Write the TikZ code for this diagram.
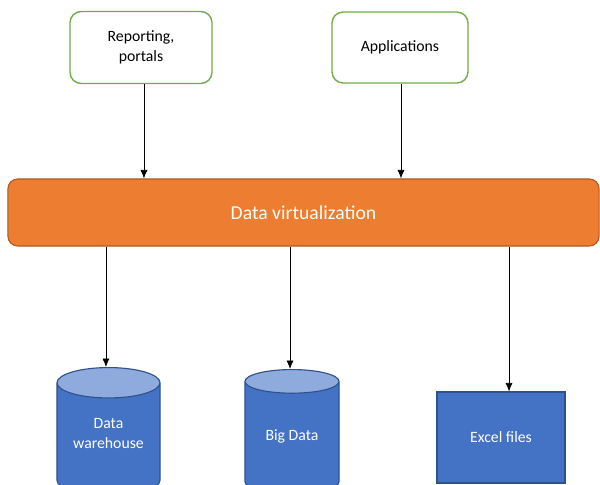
\documentclass[tikz,border=0pt]{standalone}
\usepackage{fontspec}
\setmainfont{Carlito}
\usetikzlibrary{arrows.meta,shapes.geometric,positioning}

\definecolor{frontgreen}{HTML}{70AD47}
\definecolor{layerorange}{HTML}{ED7D31}
\definecolor{layeredge}{HTML}{B4591F}
\definecolor{storeblue}{HTML}{4472C4}
\definecolor{storetop}{HTML}{8FAADC}
\definecolor{storeedge}{HTML}{2F528F}

\tikzset{
  front/.style={rectangle,rounded corners=8pt,draw=frontgreen,line width=1pt,fill=white,
    minimum width=3.55cm,minimum height=1.8cm,align=center,font=\fontsize{11.2}{14}\selectfont},
  layer/.style={rectangle,rounded corners=7pt,draw=layeredge,line width=0.8pt,fill=layerorange,
    minimum width=14.775cm,minimum height=1.675cm,text=white,font=\fontsize{14}{17}\selectfont},
  store/.style={cylinder,shape border rotate=90,aspect=0.38,draw=storeedge,line width=0.8pt,
    cylinder uses custom fill,cylinder body fill=storeblue,cylinder end fill=storetop,
    text=white,align=center,anchor=north,font=\fontsize{11.2}{14}\selectfont},
  sheet/.style={rectangle,draw=storeedge,line width=0.8pt,fill=storeblue,
    minimum width=3.2cm,minimum height=2.275cm,text=white,font=\fontsize{11.2}{14}\selectfont},
  link/.style={-{Latex[length=6pt,width=5pt]},line width=0.5pt}
}

\begin{document}
\begin{tikzpicture}[x=0.025cm,y=-0.025cm]
\useasboundingbox (0,0) rectangle (600,485);
\clip (0,0) rectangle (600,485);

\node[front] (rep) at (141,47.5) {Reporting,\\portals};
\node[front,minimum width=3.4cm,minimum height=1.775cm] (app) at (400,47.5) {Applications};
\node[layer] (dv) at (303.5,212.5) {Data virtualization};
\node[store,minimum width=2.575cm,minimum height=3.2cm,text depth=13pt] (dw) at (108.5,367) {Data\\warehouse};
\node[store,minimum width=2.35cm,minimum height=3.1cm,text depth=7.5pt] (bd) at (292,369) {Big Data};
\node[sheet] (xl) at (501,437.5) {Excel files};

\draw[link] ([xshift=2.1pt]rep.south) -- ([xshift=2.1pt]rep.south |- dv.north);
\draw[link] ([xshift=0.7pt]app.south) -- ([xshift=0.7pt]app.south |- dv.north);
\draw[link] ([xshift=-1.8pt]dw.north |- dv.south) -- ([xshift=-1.8pt]dw.north);
\draw[link] ([xshift=-1.4pt]bd.north |- dv.south) -- ([xshift=-1.4pt]bd.north);
\draw[link] ([xshift=5.7pt]xl.north |- dv.south) -- ([xshift=5.7pt]xl.north);
\end{tikzpicture}
\end{document}
